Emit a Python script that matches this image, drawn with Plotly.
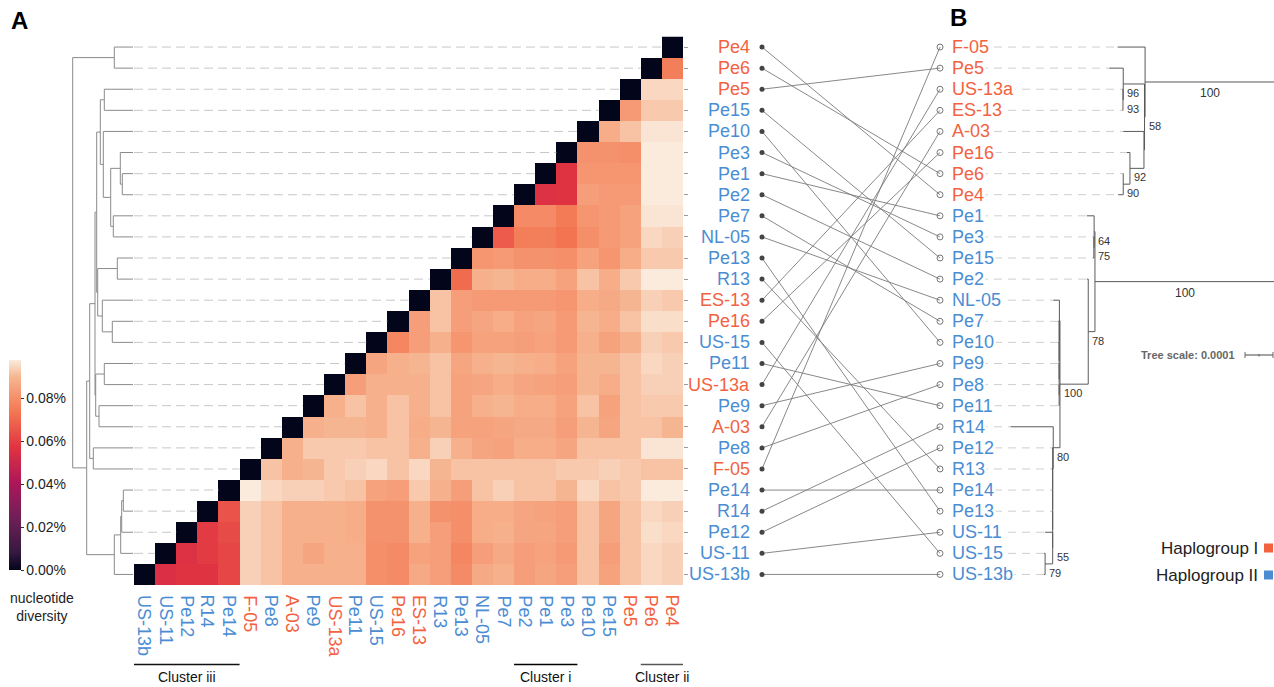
import plotly.graph_objects as go

W, H = 1274, 687
FONT = "Liberation Sans, Arial, sans-serif"
ORANGE = "#F3623F"
BLUE = "#4A8DD3"

# ---------------- data ----------------
# heatmap columns, left to right (rows are the same samples, bottom to top)
samples = ["US-13b", "US-11", "Pe12", "R14", "Pe14", "F-05", "Pe8", "A-03", "Pe9",
           "US-13a", "Pe11", "US-15", "Pe16", "ES-13", "R13", "Pe13", "NL-05", "Pe7",
           "Pe2", "Pe1", "Pe3", "Pe10", "Pe15", "Pe5", "Pe6", "Pe4"]
haplogroup_I = ["F-05", "Pe5", "US-13a", "ES-13", "A-03", "Pe16", "Pe6", "Pe4"]

# pairwise nucleotide diversity (%) of each sample vs. the samples to its right
pi_US13b = [0.055, 0.057, 0.057, 0.062, 0.094, 0.092, 0.089, 0.089, 0.089, 0.089, 0.080, 0.079, 0.087,
            0.084, 0.079, 0.087, 0.089, 0.084, 0.086, 0.084, 0.092, 0.085, 0.092, 0.095, 0.094]
pi_US11 = [0.056, 0.059, 0.062, 0.094, 0.092, 0.089, 0.086, 0.089, 0.089, 0.080, 0.079, 0.085,
           0.084, 0.078, 0.084, 0.087, 0.084, 0.085, 0.083, 0.092, 0.084, 0.092, 0.095, 0.094]
pi_Pe12 = [0.059, 0.063, 0.094, 0.092, 0.089, 0.089, 0.089, 0.088, 0.081, 0.081, 0.089, 0.084,
           0.080, 0.088, 0.089, 0.086, 0.086, 0.084, 0.092, 0.086, 0.092, 0.096, 0.095]
pi_R14 = [0.065, 0.094, 0.092, 0.089, 0.089, 0.089, 0.088, 0.081, 0.081, 0.089, 0.081, 0.080,
          0.088, 0.088, 0.086, 0.085, 0.084, 0.092, 0.086, 0.092, 0.095, 0.094]
pi_Pe14 = [0.098, 0.095, 0.094, 0.094, 0.093, 0.092, 0.085, 0.084, 0.093, 0.089, 0.084, 0.092,
           0.094, 0.092, 0.092, 0.090, 0.095, 0.092, 0.093, 0.098, 0.098]
pi_F05 = [0.092, 0.089, 0.090, 0.093, 0.094, 0.095, 0.092, 0.095, 0.090, 0.092, 0.092, 0.092,
          0.092, 0.092, 0.093, 0.093, 0.094, 0.093, 0.092, 0.092]
pi_Pe8 = [0.089, 0.093, 0.093, 0.093, 0.092, 0.092, 0.089, 0.094, 0.089, 0.086, 0.085, 0.088,
          0.088, 0.086, 0.092, 0.092, 0.092, 0.097, 0.097]
pi_A03 = [0.089, 0.090, 0.090, 0.089, 0.092, 0.088, 0.090, 0.085, 0.085, 0.086, 0.087, 0.087,
          0.084, 0.090, 0.086, 0.092, 0.092, 0.090]
pi_Pe9 = [0.089, 0.092, 0.089, 0.092, 0.089, 0.092, 0.085, 0.089, 0.090, 0.088, 0.088, 0.085,
          0.092, 0.085, 0.092, 0.093, 0.093]
pi_US13a = [0.084, 0.089, 0.089, 0.089, 0.092, 0.085, 0.086, 0.088, 0.086, 0.085, 0.084, 0.090,
            0.088, 0.092, 0.094, 0.094]
pi_Pe11 = [0.086, 0.089, 0.090, 0.092, 0.086, 0.089, 0.090, 0.089, 0.088, 0.085, 0.090, 0.090,
           0.092, 0.095, 0.094]
pi_US15 = [0.078, 0.084, 0.089, 0.082, 0.085, 0.085, 0.084, 0.085, 0.083, 0.089, 0.085, 0.089,
           0.094, 0.093]
pi_Pe16 = [0.084, 0.092, 0.084, 0.086, 0.088, 0.085, 0.086, 0.083, 0.090, 0.088, 0.092, 0.096, 0.096]
pi_ES13 = [0.092, 0.084, 0.083, 0.083, 0.083, 0.083, 0.082, 0.088, 0.087, 0.090, 0.094, 0.093]
pi_R13 = [0.071, 0.089, 0.090, 0.088, 0.088, 0.085, 0.092, 0.088, 0.093, 0.098, 0.098]
pi_Pe13 = [0.082, 0.083, 0.081, 0.081, 0.080, 0.085, 0.082, 0.088, 0.093, 0.093]
pi_NL05 = [0.067, 0.076, 0.076, 0.073, 0.080, 0.083, 0.085, 0.095, 0.094]
pi_Pe7 = [0.079, 0.079, 0.075, 0.082, 0.083, 0.085, 0.097, 0.097]
pi_Pe2 = [0.056, 0.057, 0.084, 0.083, 0.083, 0.098, 0.098]
pi_Pe1 = [0.057, 0.082, 0.082, 0.082, 0.098, 0.098]
pi_Pe3 = [0.081, 0.081, 0.080, 0.098, 0.098]
pi_Pe10 = [0.088, 0.092, 0.097, 0.097]
pi_Pe15 = [0.083, 0.093, 0.093]
pi_Pe5 = [0.095, 0.095]
pi_Pe6 = [0.076]
pi_rows = [pi_US13b, pi_US11, pi_Pe12, pi_R14, pi_Pe14, pi_F05, pi_Pe8, pi_A03, pi_Pe9,
           pi_US13a, pi_Pe11, pi_US15, pi_Pe16, pi_ES13, pi_R13, pi_Pe13, pi_NL05, pi_Pe7,
           pi_Pe2, pi_Pe1, pi_Pe3, pi_Pe10, pi_Pe15, pi_Pe5, pi_Pe6, []]

# hierarchical clustering of panel A: (node, child1, child2, height)
dendro_links = [
    ("a1", "Pe4", "Pe6", 0.187), ("a2", "Pe5", "Pe15", 0.287), ("a3", "Pe1", "Pe2", 0.107),
    ("a4", "Pe3", "a3", 0.127), ("a5", "Pe7", "NL-05", 0.197), ("a6", "a4", "a5", 0.223),
    ("a7", "Pe10", "a6", 0.297), ("a8", "a2", "a7", 0.327), ("a9", "Pe13", "R13", 0.157),
    ("a10", "Pe16", "US-15", 0.207), ("a11", "ES-13", "a10", 0.307), ("a12", "a9", "a11", 0.353),
    ("a13", "a8", "a12", 0.363), ("a14", "Pe11", "US-13a", 0.287), ("a15", "Pe9", "A-03", 0.34),
    ("a16", "a14", "a15", 0.373), ("a17", "a13", "a16", 0.38), ("a18", "Pe8", "F-05", 0.397),
    ("a19", "a17", "a18", 0.433), ("a20", "Pe14", "R14", 0.097), ("a21", "a20", "Pe12", 0.113),
    ("a22", "a21", "US-11", 0.123), ("a23", "a22", "US-13b", 0.187), ("a24", "a19", "a23", 0.463),
    ("root", "a1", "a24", 0.603),
]

# panel B phylogeny: tips (top to bottom) and their distance from the root (x 1e-4)
treeB_tips = ["F-05", "Pe5", "US-13a", "ES-13", "A-03", "Pe16", "Pe6", "Pe4", "Pe1", "Pe3",
              "Pe15", "Pe2", "NL-05", "Pe7", "Pe10", "Pe9", "Pe8", "Pe11", "R14", "Pe12",
              "R13", "Pe14", "Pe13", "US-11", "US-15", "US-13b"]
treeB_tip_depth = [5.62, 5.92, 5.45, 5.45, 5.42, 5.29, 5.44, 5.60, 6.72, 6.48, 6.50, 6.72, 7.92,
                   7.74, 7.74, 7.72, 7.72, 7.72, 9.44, 7.97, 7.97, 7.97, 7.97, 8.21, 8.25, 8.25]
# (node, child1, child2, depth, bootstrap)
treeB_nodes = [
    ("b93", "US-13a", "ES-13", 5.43, "93"), ("b96", "Pe5", "b93", 5.42, "96"),
    ("b90", "Pe6", "Pe4", 5.42, "90"), ("b92", "Pe16", "b90", 5.18, "92"),
    ("b58a", "A-03", "b92", 4.68, ""), ("b58", "b96", "b58a", 4.66, "58"),
    ("bI", "F-05", "b58", 4.64, ""),
    ("b75", "Pe3", "Pe15", 6.47, "75"), ("b64", "Pe1", "b75", 6.46, "64"),
    ("t5", "Pe8", "Pe11", 7.71, ""), ("t4", "Pe9", "t5", 7.71, ""), ("t3", "Pe10", "t4", 7.71, ""),
    ("t2", "Pe7", "t3", 7.71, ""), ("t1", "NL-05", "t2", 7.70, ""),
    ("u6", "US-15", "US-13b", 8.21, "79"), ("u5", "US-11", "u6", 7.94, "55"),
    ("u4", "Pe13", "u5", 7.94, ""), ("u3", "Pe14", "u4", 7.94, ""), ("u2", "R13", "u3", 7.94, ""),
    ("u1", "Pe12", "u2", 7.94, ""), ("b80", "R14", "u1", 7.92, "80"),
    ("b100", "t1", "b80", 7.68, "100"), ("b78", "Pe2", "b100", 6.67, "78"),
    ("bII", "b64", "b78", 6.43, ""), ("rootB", "bI", "bII", 0.0, ""),
]
root_branch_support = {"bI": "100", "bII": "100"}
tree_scale_label = "Tree scale: 0.0001"
tree_scale_units = 1.0

clusters = ["Cluster iii", "Cluster i", "Cluster ii"]
cluster_first = ["US-13b", "Pe2", "Pe6"]
cluster_last = ["Pe14", "Pe3", "Pe4"]
cluster_color = ["#111111", "#000000", "#555555"]

colorbar_ticks = [0.0, 0.02, 0.04, 0.06, 0.08]
zmax = 0.098

rocket = [[0.0, "#03051A"], [0.0833, "#35193E"], [0.25, "#701F57"], [0.4167, "#AD1759"],
          [0.5833, "#E13342"], [0.75, "#F37651"], [0.9167, "#F6B48F"], [1.0, "#FAEBDD"]]

# ---------------- derived ----------------
n = len(samples)
rows = samples[::-1]                      # top to bottom
hap_color = {s: (ORANGE if s in haplogroup_I else BLUE) for s in samples}
assert all(len(pi_rows[k]) == n - 1 - k for k in range(n))

z = []
for r in range(n):
    k = n - 1 - r
    z.append([None if j < k else (0.0 if j == k else pi_rows[k][j - k - 1]) for j in range(n)])

# layout geometry (pixels)
HX0, HX1 = 134, 683
HY0, HY1 = 36.5, 585
def px(x): return x / W
def py(y): return 1 - y / H

fig = go.Figure()

fig.add_trace(go.Heatmap(
    z=z, x=list(range(n)), y=list(range(n)), colorscale=rocket, zmin=0, zmax=zmax,
    hoverinfo="skip", xaxis="x", yaxis="y",
    colorbar=dict(x=px(9), xanchor="left", xpad=0, thickness=12, thicknessmode="pixels",
                  len=(570 - 360) / H, lenmode="fraction", y=py(570), yanchor="bottom", ypad=0,
                  tickmode="array", tickvals=colorbar_ticks,
                  ticktext=[f"{v:.2f}%" for v in colorbar_ticks], ticks="outside",
                  ticklen=3, tickcolor="#333", outlinewidth=0,
                  tickfont=dict(size=14, color="#222", family=FONT)),
))

# dashed guide lines from dendrogram leaves to the diagonal
gx, gy = [], []
for r in range(n):
    gx += [-0.5, (n - 1 - r) - 0.5, None]
    gy += [r, r, None]
fig.add_trace(go.Scatter(x=gx, y=gy, mode="lines", xaxis="x", yaxis="y", hoverinfo="skip",
                         line=dict(color="#c8c8c8", width=1, dash="9px,5px"), showlegend=False))

# left dendrogram
pos = {s: rows.index(s) for s in rows}
hgt = {s: 0.0 for s in rows}
dx, dy = [], []
for name, a, b, h in dendro_links:
    pos[name] = (pos[a] + pos[b]) / 2
    hgt[name] = h
    dx += [hgt[a], h, h, hgt[b], None]
    dy += [pos[a], pos[a], pos[b], pos[b], None]
fig.add_trace(go.Scatter(x=dx, y=dy, mode="lines", xaxis="x2", yaxis="y", hoverinfo="skip",
                         line=dict(color="#8a8a8a", width=1), showlegend=False))

# tanglegram
LEFT_X, RIGHT_X = 762, 940
tx, ty = [], []
for s in samples:
    tx += [LEFT_X, RIGHT_X, None]
    ty += [rows.index(s), treeB_tips.index(s), None]
fig.add_trace(go.Scatter(x=tx, y=ty, mode="lines", xaxis="x3", yaxis="y", hoverinfo="skip",
                         line=dict(color="#7a7a7a", width=0.9), showlegend=False))
fig.add_trace(go.Scatter(x=[LEFT_X] * n, y=list(range(n)), mode="markers", xaxis="x3", yaxis="y",
                         hoverinfo="skip", marker=dict(color="#444", size=5), showlegend=False))
fig.add_trace(go.Scatter(x=[RIGHT_X] * n, y=list(range(n)), mode="markers", xaxis="x3", yaxis="y",
                         hoverinfo="skip", marker=dict(color="#777", size=6, symbol="circle-open",
                                                       line=dict(width=1)), showlegend=False))

# tree B
PX_PER_UNIT = 28
TB_LEFT = 945
ROOT_PX = 1275
bpos = {s: i for i, s in enumerate(treeB_tips)}
bdep = dict(zip(treeB_tips, treeB_tip_depth))
bx, by = [], []
support_ann = []
for name, a, b, d, sup in treeB_nodes:
    bpos[name] = (bpos[a] + bpos[b]) / 2
    bdep[name] = d
    bx += [bdep[a], d, d, bdep[b], None]
    by += [bpos[a], bpos[a], bpos[b], bpos[b], None]
    if sup:
        support_ann.append((d, bpos[name], sup))
# dashed guides from labels to tips
start_d = (ROOT_PX - (RIGHT_X + 12)) / PX_PER_UNIT
qx, qy = [], []
for i, s in enumerate(treeB_tips):
    qx += [start_d, bdep[s], None]
    qy += [i, i, None]
fig.add_trace(go.Scatter(x=qx, y=qy, mode="lines", xaxis="x4", yaxis="y", hoverinfo="skip",
                         line=dict(color="#cfcfcf", width=1, dash="8px,6px"), showlegend=False))
fig.add_trace(go.Scatter(x=bx, y=by, mode="lines", xaxis="x4", yaxis="y", hoverinfo="skip",
                         line=dict(color="#5a5a5a", width=1), showlegend=False))

ann = []
# heatmap row labels
for r, s in enumerate(rows):
    ann.append(dict(x=px(752), y=r, xref="paper", yref="y", text=s, showarrow=False,
                    xanchor="right", yanchor="middle", font=dict(size=18, color=hap_color[s], family=FONT)))
# column labels
for j, s in enumerate(samples):
    ann.append(dict(x=j, y=py(593), xref="x", yref="paper", text=s, showarrow=False, textangle=90,
                    xanchor="center", yanchor="top", font=dict(size=18, color=hap_color[s], family=FONT)))
# tree B labels
for i, s in enumerate(treeB_tips):
    ann.append(dict(x=px(RIGHT_X + 10), y=i, xref="paper", yref="y", text=s, showarrow=False,
                    xanchor="left", yanchor="middle", bgcolor="white", borderpad=1,
                    font=dict(size=18, color=hap_color[s], family=FONT)))
# bootstrap supports
for d, yv, sup in support_ann:
    ann.append(dict(x=d, y=yv, xref="x4", yref="y", text=sup, showarrow=False, xanchor="left",
                    yanchor="top", xshift=2, yshift=-1, font=dict(size=11, color="#333", family=FONT)))
for c, sup in root_branch_support.items():
    ann.append(dict(x=bdep[c] / 2, y=bpos[c], xref="x4", yref="y", text=sup, showarrow=False,
                    xanchor="center", yanchor="top", yshift=-2, font=dict(size=12, color="#333", family=FONT)))
# tree scale
ann.append(dict(x=px(1237), y=py(355), xref="paper", yref="paper", text="<b>" + tree_scale_label + "</b>",
                showarrow=False, xanchor="right", yanchor="middle", font=dict(size=11, color="#666", family=FONT)))

shapes = []
sb_right = (ROOT_PX - 1273) / PX_PER_UNIT
sb_left = sb_right + tree_scale_units
for xv in [sb_left, sb_right]:
    shapes.append(dict(type="line", xref="x4", yref="paper", x0=xv, x1=xv, y0=py(352), y1=py(358),
                       line=dict(color="#666", width=1)))
shapes.append(dict(type="line", xref="x4", yref="paper", x0=sb_left, x1=sb_right, y0=py(355), y1=py(355),
                   line=dict(color="#666", width=1.2)))
shapes.append(dict(type="line", xref="x4", yref="paper", x0=(sb_left + sb_right) / 2, x1=(sb_left + sb_right) / 2,
                   y0=py(354), y1=py(356.5), line=dict(color="#666", width=1)))

# clusters
for name, a, b, col in zip(clusters, cluster_first, cluster_last, cluster_color):
    x0 = samples.index(a) - 0.5
    x1 = samples.index(b) + 0.5
    shapes.append(dict(type="line", xref="x", yref="paper", x0=x0, x1=x1, y0=py(664.5), y1=py(664.5),
                       line=dict(color=col, width=1.6)))
    ann.append(dict(x=(x0 + x1) / 2, y=py(677), xref="x", yref="paper", text=name, showarrow=False,
                    xanchor="center", yanchor="middle", font=dict(size=14, color="#111", family=FONT)))

# legend
for label, col, yy in [("Haplogroup I", ORANGE, 548), ("Haplogroup II", BLUE, 575)]:
    ann.append(dict(x=px(1260), y=py(yy), xref="paper", yref="paper", text=label, showarrow=False,
                    xanchor="right", yanchor="middle", font=dict(size=17, color="#222", family=FONT)))
    shapes.append(dict(type="rect", xref="paper", yref="paper", x0=px(1264), x1=px(1273),
                       y0=py(yy + 4.5), y1=py(yy - 4.5), fillcolor=col, line=dict(width=0)))

# colorbar title & panel letters
ann.append(dict(x=px(42), y=py(607), xref="paper", yref="paper", text="nucleotide<br>diversity",
                showarrow=False, xanchor="center", yanchor="middle", font=dict(size=14, color="#222", family=FONT)))
ann.append(dict(x=px(9), y=py(20), xref="paper", yref="paper", text="<b>A</b>", showarrow=False,
                xanchor="left", yanchor="middle", font=dict(size=24, color="#000", family=FONT)))
ann.append(dict(x=px(948), y=py(18), xref="paper", yref="paper", text="<b>B</b>", showarrow=False,
                xanchor="left", yanchor="middle", font=dict(size=24, color="#000", family=FONT)))

hidden = dict(showgrid=False, zeroline=False, showticklabels=False, showline=False, ticks="")
fig.update_layout(
    width=W, height=H, margin=dict(l=0, r=0, t=0, b=0), paper_bgcolor="white", plot_bgcolor="rgba(0,0,0,0)",
    hovermode=False, showlegend=False, font=dict(family=FONT),
    xaxis=dict(domain=[px(HX0), px(HX1)], range=[-0.5, n - 0.5], anchor="y", **hidden),
    yaxis=dict(domain=[py(HY1), py(HY0)], range=[n - 0.5, -0.5], anchor="x", side="right",
               showgrid=False, zeroline=False, showticklabels=False, showline=False,
               ticks="outside", ticklen=4, tickcolor="#999", tickvals=list(range(n))),
    xaxis2=dict(domain=[px(60), px(133)], range=[0.73, 0], anchor="y", **hidden),
    xaxis3=dict(domain=[0, 1], range=[0, W], anchor="y", **hidden),
    xaxis4=dict(domain=[px(TB_LEFT), 1], range=[(ROOT_PX - TB_LEFT) / PX_PER_UNIT, (ROOT_PX - W) / PX_PER_UNIT],
                anchor="y", **hidden),
    annotations=ann, shapes=shapes,
)

fig.write_html("out.html", config={"displayModeBar": False})
# remove the browser's default page margin so the figure fills the window exactly
with open("out.html", encoding="utf-8") as f:
    html = f.read()
html = html.replace("<head>", "<head><style>html,body{margin:0;padding:0;overflow:hidden;}</style>", 1)
with open("out.html", "w", encoding="utf-8") as f:
    f.write(html)
